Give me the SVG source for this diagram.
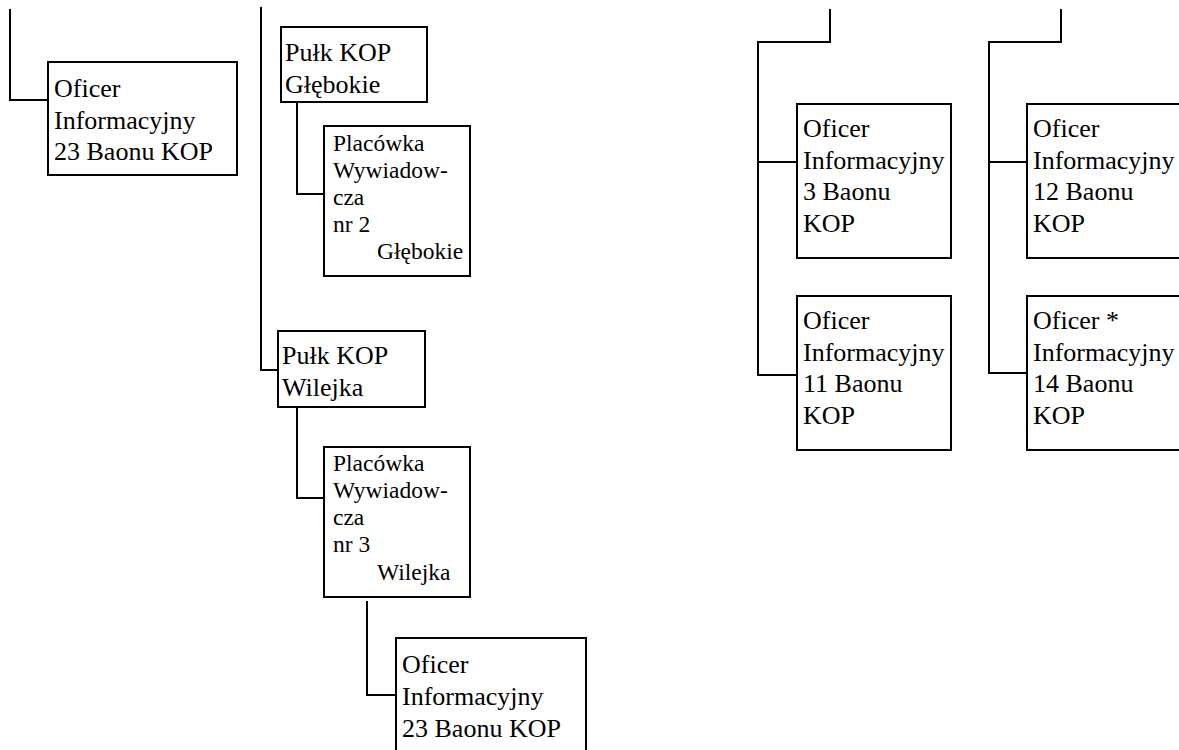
<svg xmlns="http://www.w3.org/2000/svg" width="1179" height="750" viewBox="0 0 1179 750">
<style>
.box{fill:#fff;stroke:#000;stroke-width:2}
.ln{fill:none;stroke:#000;stroke-width:2}
text{font-family:'Liberation Serif','DejaVu Serif',serif;fill:#000}
.t{font-size:26px}
.s{font-size:23.5px}
</style>
<rect width="1179" height="750" fill="#fff"/>
<g id="connectors">
<path class="ln" d="M10,9 V100 H48"/>
<path class="ln" d="M261,7 V370 H278"/>
<path class="ln" d="M297,103 V194 H324"/>
<path class="ln" d="M297,407 V498 H324"/>
<path class="ln" d="M367,601 V695 H396"/>
<path class="ln" d="M830,9 V42 H758 V375 H797 M758,162 H797"/>
<path class="ln" d="M1061,9 V42 H989 V373 H1027 M989,162 H1027"/>
</g>
<g id="n_oficer23a">
<rect class="box" x="48" y="62" width="189" height="113"/>
<text class="t" x="54" y="97">Oficer</text>
<text class="t" x="54" y="128.5">Informacyjny</text>
<text class="t" x="54" y="160">23 Baonu KOP</text>
</g>
<g id="n_pulk_glebokie">
<rect class="box" x="281" y="27" width="146" height="75"/>
<text class="t" x="285" y="61">Pułk KOP</text>
<text class="t" x="285" y="93">Głębokie</text>
</g>
<g id="n_placowka2">
<rect class="box" x="324" y="126" width="146" height="150"/>
<text class="s" x="333" y="151">Placówka</text>
<text class="s" x="333" y="178">Wywiadow-</text>
<text class="s" x="333" y="205">cza</text>
<text class="s" x="333" y="232">nr 2</text>
<text class="s" x="377" y="259">Głębokie</text>
</g>
<g id="n_pulk_wilejka">
<rect class="box" x="278" y="331" width="147" height="76"/>
<text class="t" x="282" y="364">Pułk KOP</text>
<text class="t" x="282" y="396">Wilejka</text>
</g>
<g id="n_placowka3">
<rect class="box" x="324" y="447" width="146" height="150"/>
<text class="s" x="333" y="471">Placówka</text>
<text class="s" x="333" y="498">Wywiadow-</text>
<text class="s" x="333" y="525">cza</text>
<text class="s" x="333" y="552">nr 3</text>
<text class="s" x="377" y="580">Wilejka</text>
</g>
<g id="n_oficer23b">
<rect class="box" x="396" y="638" width="190" height="120"/>
<text class="t" x="402" y="673">Oficer</text>
<text class="t" x="402" y="704.5">Informacyjny</text>
<text class="t" x="402" y="737">23 Baonu KOP</text>
</g>
<g id="n_oficer3">
<rect class="box" x="797" y="104" width="154" height="154"/>
<text class="t" x="803" y="137">Oficer</text>
<text class="t" x="803" y="168.5">Informacyjny</text>
<text class="t" x="803" y="200">3 Baonu</text>
<text class="t" x="803" y="232">KOP</text>
</g>
<g id="n_oficer11">
<rect class="box" x="797" y="296" width="154" height="154"/>
<text class="t" x="803" y="329">Oficer</text>
<text class="t" x="803" y="360.5">Informacyjny</text>
<text class="t" x="803" y="392">11 Baonu</text>
<text class="t" x="803" y="424">KOP</text>
</g>
<g id="n_oficer12">
<rect class="box" x="1027" y="104" width="170" height="154"/>
<text class="t" x="1033" y="137">Oficer</text>
<text class="t" x="1033" y="168.5">Informacyjny</text>
<text class="t" x="1033" y="200">12 Baonu</text>
<text class="t" x="1033" y="232">KOP</text>
</g>
<g id="n_oficer14">
<rect class="box" x="1027" y="296" width="170" height="154"/>
<text class="t" x="1033" y="329">Oficer *</text>
<text class="t" x="1033" y="360.5">Informacyjny</text>
<text class="t" x="1033" y="392">14 Baonu</text>
<text class="t" x="1033" y="424">KOP</text>
</g>
</svg>
